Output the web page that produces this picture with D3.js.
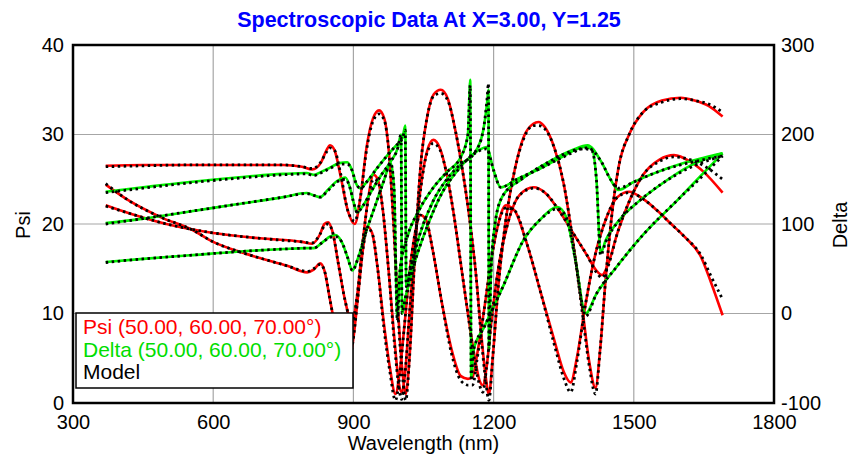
<!DOCTYPE html>
<html>
<head>
<meta charset="utf-8">
<script src="https://cdn.jsdelivr.net/npm/d3@7"></script>
<style>
  body { margin: 0; background: #fff; }
  svg { display: block; }
  text { font-family: "Liberation Sans", Arial, Helvetica, sans-serif; }
</style>
</head>
<body>
<svg id="chart"></svg>
<script>
const w = 860;
const h = 461;
const plotLeft = 73, plotRight = 774, plotTop = 45, plotBottom = 403;

const title = "Spectroscopic Data At X=3.00, Y=1.25";
const xTicks = [300, 600, 900, 1200, 1500, 1800];
const psiTicks = [0, 10, 20, 30, 40];
const deltaTicks = [-100, 0, 100, 200, 300];
const legendLabels = ["Psi (50.00, 60.00, 70.00°)", "Delta (50.00, 60.00, 70.00°)", "Model"];

// measured Psi, [wavelength nm, psi deg]
const psi1 = [[370,26.5],[450,26.6],[550,26.6],[650,26.6],[750,26.6],[790,26.4],[812,26.1],[830,26.8],[842,28.2],[850,28.8],[860,28.2],[872,25.5],[888,21.5],[903,20.0],[915,23.0],[928,28.5],[942,31.8],[955,32.7],[966,31.8],[976,28.0],[986,20.0],[996,10.0],[1005,3.5],[1012,1.0],[1020,5.0],[1030,15.0],[1043,26.0],[1058,32.0],[1072,34.5],[1087,35.0],[1102,34.0],[1118,30.5],[1135,25.5],[1150,20.0],[1162,14.5],[1174,7.5],[1183,3.0],[1190,1.0],[1198,5.0],[1210,13.0],[1225,20.0],[1245,26.0],[1265,29.8],[1285,31.2],[1296,31.4],[1310,30.8],[1330,28.5],[1350,24.5],[1370,18.0],[1390,10.5],[1405,4.5],[1418,1.7],[1428,6.0],[1440,14.0],[1453,21.0],[1468,26.5],[1490,30.0],[1520,32.5],[1560,33.8],[1600,34.1],[1630,33.8],[1660,33.2],[1690,32.0]];
const psi2 = [[370,22.1],[420,21.2],[500,20.0],[600,19.0],[700,18.4],[790,18.0],[812,17.8],[828,18.8],[838,20.0],[846,20.2],[855,19.2],[868,15.5],[882,11.5],[897,9.0],[908,12.0],[920,18.0],[932,23.0],[943,25.5],[952,25.0],[962,22.0],[975,15.0],[988,7.0],[998,2.0],[1003,1.2],[1010,3.0],[1020,10.0],[1032,18.0],[1045,24.5],[1058,28.2],[1071,29.4],[1085,28.5],[1100,25.5],[1115,21.0],[1130,15.5],[1145,10.0],[1160,5.0],[1170,2.5],[1177,2.0],[1185,4.0],[1195,9.0],[1210,15.0],[1230,20.0],[1255,23.2],[1286,24.1],[1310,23.5],[1340,21.5],[1370,19.0],[1400,16.5],[1420,14.8],[1432,14.3],[1445,15.5],[1465,19.0],[1490,22.5],[1520,25.5],[1555,27.2],[1586,27.7],[1620,27.0],[1650,25.8],[1690,23.5]];
const psi3 = [[370,24.4],[420,22.6],[486,20.8],[557,19.3],[600,18.0],[650,17.0],[700,16.2],[760,15.3],[801,14.6],[815,14.9],[829,15.6],[838,14.8],[850,11.5],[865,7.5],[878,5.0],[888,4.5],[898,6.5],[910,12.0],[920,17.0],[930,19.7],[940,19.0],[952,15.0],[965,9.0],[978,4.0],[990,1.0],[998,3.0],[1008,8.0],[1020,14.5],[1032,19.0],[1043,21.0],[1055,20.5],[1070,17.0],[1090,11.0],[1110,6.0],[1130,3.0],[1145,2.7],[1155,2.9],[1165,5.5],[1180,10.5],[1195,16.0],[1210,20.0],[1226,22.1],[1245,21.5],[1270,18.0],[1300,12.5],[1330,7.0],[1350,3.5],[1365,2.3],[1378,5.0],[1395,10.5],[1415,16.0],[1440,20.5],[1465,23.0],[1490,23.6],[1520,22.8],[1550,21.5],[1580,20.0],[1610,18.5],[1644,16.3],[1665,13.5],[1690,9.8]];

// measured Delta, [wavelength nm, delta deg]
const delta1 = [[370,136],[450,141],[550,147],[650,152],[750,156],[800,157],[815,155],[830,158],[850,163],[870,168],[887,169],[897,160],[906,145],[915,140],[930,148],[950,162],[970,175],[990,187],[1005,196],[1011,210],[1013,30],[1020,45],[1040,85],[1070,125],[1100,150],[1130,167],[1160,180],[1178,205],[1186,235],[1189,250],[1190,-40],[1194,40],[1203,100],[1218,130],[1260,150],[1320,170],[1370,183],[1401,188],[1430,170],[1450,150],[1467,138],[1500,147],[1550,158],[1600,167],[1650,174],[1690,179]];
const delta2 = [[370,101],[450,106],[550,114],[650,122],[750,130],[800,134.6],[815,132],[829,130],[845,138],[865,148],[883,152],[893,140],[900,125],[908,113],[920,120],[940,138],[960,155],[980,170],[995,185],[1002,200],[1004,0],[1010,15],[1030,55],[1060,100],[1090,135],[1120,158],[1150,175],[1170,183],[1185,186],[1200,160],[1215,141],[1250,150],[1300,162],[1350,176],[1395,186],[1410,184],[1420,150],[1429,68],[1440,82],[1470,105],[1510,125],[1560,145],[1620,165],[1690,179]];
const delta3 = [[370,57.5],[450,61],[550,65],[650,69],[750,72],[800,73],[815,73],[835,80],[850,86],[862,87.7],[875,80],[888,62],[898,48],[910,62],[925,88],[945,118],[965,148],[980,168],[987,140],[994,-4],[1000,50],[1015,85],[1040,115],[1070,140],[1100,158],[1130,175],[1145,200],[1150,261],[1152,-71],[1157,-41],[1180,-15],[1220,30],[1264,82],[1300,105],[1337,119],[1355,108],[1375,60],[1397,0],[1420,22],[1460,50],[1520,88],[1594,127],[1640,152],[1690,179]];

// model curves
const modelPsi1 = [[370,26.4],[450,26.5],[550,26.6],[650,26.6],[750,26.6],[790,26.4],[812,26.2],[830,26.9],[842,28.0],[850,28.5],[860,28.2],[872,25.8],[888,21.5],[903,20.3],[915,23.0],[928,28.2],[942,31.5],[955,32.3],[966,31.6],[976,28.0],[986,20.0],[996,9.5],[1005,3.0],[1012,0.3],[1020,5.0],[1030,15.0],[1043,26.0],[1058,32.0],[1072,34.3],[1087,34.6],[1102,33.8],[1118,30.5],[1135,25.5],[1150,20.0],[1162,14.5],[1174,7.0],[1183,2.5],[1190,0.3],[1198,5.0],[1210,13.0],[1225,20.0],[1245,26.0],[1265,29.6],[1285,31.0],[1296,31.0],[1310,30.6],[1330,28.5],[1350,24.5],[1370,18.0],[1390,10.0],[1405,4.0],[1418,1.0],[1428,6.0],[1440,14.0],[1453,21.0],[1468,26.5],[1490,30.0],[1520,32.5],[1560,33.6],[1600,34.0],[1630,33.8],[1660,33.4],[1690,32.5]];
const modelPsi2 = [[370,22.0],[420,21.2],[500,20.0],[600,19.0],[700,18.4],[790,18.0],[812,17.9],[828,18.8],[838,19.8],[846,20.0],[855,19.2],[868,15.5],[882,11.5],[897,9.0],[908,12.0],[920,18.0],[932,22.8],[943,25.0],[952,24.8],[962,22.0],[975,15.0],[988,6.5],[998,1.5],[1003,0.4],[1010,3.0],[1020,10.0],[1032,18.0],[1045,24.3],[1058,28.0],[1071,29.0],[1085,28.3],[1100,25.5],[1115,21.0],[1130,15.5],[1145,10.0],[1160,4.5],[1170,2.0],[1177,1.2],[1185,4.0],[1195,9.0],[1210,15.0],[1230,20.0],[1255,23.2],[1286,24.0],[1310,23.5],[1340,21.5],[1370,19.0],[1400,16.5],[1420,14.6],[1432,14.0],[1445,15.3],[1465,19.0],[1490,22.5],[1520,25.5],[1555,27.0],[1586,27.5],[1620,27.2],[1650,26.5],[1690,25.0]];
const modelPsi3 = [[370,24.5],[420,22.6],[486,20.8],[557,19.3],[600,18.0],[650,17.0],[700,16.2],[760,15.3],[801,14.7],[815,15.0],[829,15.5],[838,14.8],[850,11.5],[865,7.5],[878,5.0],[888,4.5],[898,6.5],[910,12.0],[920,17.0],[930,19.5],[940,19.0],[952,15.0],[965,8.5],[978,3.5],[990,0.3],[998,2.5],[1008,8.0],[1020,14.5],[1032,19.0],[1043,21.0],[1055,20.5],[1070,17.0],[1090,11.0],[1110,5.5],[1130,2.5],[1145,2.0],[1155,2.0],[1165,5.0],[1180,10.5],[1195,16.0],[1210,20.0],[1226,21.8],[1245,21.5],[1270,18.0],[1300,12.5],[1330,6.5],[1350,2.8],[1365,1.2],[1378,4.5],[1395,10.5],[1415,16.0],[1440,20.5],[1465,23.0],[1490,23.5],[1520,22.8],[1550,21.5],[1580,20.0],[1610,18.5],[1644,16.5],[1665,14.2],[1690,11.6]];
const modelDelta1 = [[370,135],[450,140],[550,146],[650,151],[750,155],[800,156],[815,154],[830,157],[850,162],[870,167],[887,167],[897,160],[906,145],[915,140],[930,148],[950,162],[970,175],[990,187],[1005,196],[1011,205],[1013,30],[1020,45],[1040,85],[1070,125],[1100,150],[1130,167],[1160,180],[1178,205],[1186,240],[1189,257],[1190,-40],[1194,40],[1203,100],[1218,130],[1260,150],[1320,170],[1370,182],[1401,185],[1430,170],[1450,150],[1467,140],[1500,147],[1550,158],[1600,166],[1650,172],[1690,176]];
const modelDelta2 = [[370,100],[450,106],[550,114],[650,122],[750,130],[800,134],[815,132],[829,130],[845,137],[865,147],[883,150],[893,140],[900,125],[908,113],[920,120],[940,138],[960,155],[980,170],[995,185],[1002,200],[1004,0],[1010,15],[1030,55],[1060,100],[1090,135],[1120,158],[1150,175],[1170,182],[1185,184],[1200,160],[1215,141],[1250,150],[1300,162],[1350,175],[1395,184],[1410,182],[1420,150],[1429,65],[1440,80],[1470,105],[1510,125],[1560,145],[1620,163],[1690,176]];
const modelDelta3 = [[370,57],[450,61],[550,65],[650,69],[750,72],[800,73],[815,73],[835,80],[850,85],[862,86],[875,80],[888,62],[898,48],[910,62],[925,88],[945,118],[965,148],[980,168],[987,140],[994,-8],[1000,50],[1015,85],[1040,115],[1070,140],[1100,158],[1130,175],[1145,200],[1150,255],[1152,-75],[1157,-41],[1180,-15],[1220,30],[1264,82],[1300,105],[1337,117],[1355,108],[1375,60],[1397,-3],[1420,22],[1460,50],[1520,88],[1594,127],[1640,150],[1690,176]];

const svg = d3.select("#chart")
    .attr("width", w)
    .attr("height", h);

const x = d3.scaleLinear().domain([300, 1800]).range([plotLeft, plotRight]);
const yPsi = d3.scaleLinear().domain([0, 40]).range([plotBottom, plotTop]);
const yDelta = d3.scaleLinear().domain([-100, 300]).range([plotBottom, plotTop]);

svg.append("defs").append("clipPath").attr("id", "plot")
    .append("rect")
    .attr("x", plotLeft).attr("y", plotTop)
    .attr("width", plotRight - plotLeft).attr("height", plotBottom - plotTop);

// grid
svg.append("g").selectAll("line")
    .data(xTicks.slice(1, -1))
    .join("line")
    .attr("x1", d => x(d)).attr("x2", d => x(d))
    .attr("y1", plotTop).attr("y2", plotBottom)
    .attr("stroke", "#a6a6a6").attr("stroke-width", 1.2);

svg.append("g").selectAll("line")
    .data(psiTicks.slice(1, -1))
    .join("line")
    .attr("x1", plotLeft).attr("x2", plotRight)
    .attr("y1", d => yPsi(d)).attr("y2", d => yPsi(d))
    .attr("stroke", "#a6a6a6").attr("stroke-width", 1.2);

// axes
const styleAxis = g => {
    g.select(".domain").remove();
    g.attr("font-size", 20).attr("font-family", "\"Liberation Sans\", Arial, sans-serif");
    g.selectAll("text").attr("fill", "#000");
};

svg.append("g")
    .attr("transform", `translate(0,${plotBottom})`)
    .call(d3.axisBottom(x).tickValues(xTicks).tickSize(0).tickPadding(12).tickFormat(d => String(d)))
    .call(styleAxis);

svg.append("g")
    .attr("transform", `translate(${plotLeft},0)`)
    .call(d3.axisLeft(yPsi).tickValues(psiTicks).tickSize(0).tickPadding(9).tickFormat(d => String(d)))
    .call(styleAxis);

svg.append("g")
    .attr("transform", `translate(${plotRight},0)`)
    .call(d3.axisRight(yDelta).tickValues(deltaTicks).tickSize(0).tickPadding(7).tickFormat(d => String(d)))
    .call(styleAxis);

// curves
const psiLine = d3.line().x(d => x(d[0])).y(d => yPsi(d[1])).curve(d3.curveMonotoneX);
const deltaLine = d3.line().x(d => x(d[0])).y(d => yDelta(d[1])).curve(d3.curveMonotoneX);

const plot = svg.append("g").attr("clip-path", "url(#plot)");

[psi1, psi2, psi3].forEach(s => {
    plot.append("path").attr("d", psiLine(s))
        .attr("fill", "none").attr("stroke", "#ff0000").attr("stroke-width", 2.6);
});

[delta1, delta2, delta3].forEach(s => {
    plot.append("path").attr("d", deltaLine(s))
        .attr("fill", "none").attr("stroke", "#00f000").attr("stroke-width", 2.6);
});

[modelPsi1, modelPsi2, modelPsi3].forEach(s => {
    plot.append("path").attr("d", psiLine(s))
        .attr("fill", "none").attr("stroke", "#000").attr("stroke-width", 2.8)
        .attr("stroke-dasharray", "2.5,3.5");
});

[modelDelta1, modelDelta2, modelDelta3].forEach(s => {
    plot.append("path").attr("d", deltaLine(s))
        .attr("fill", "none").attr("stroke", "#000").attr("stroke-width", 2.8)
        .attr("stroke-dasharray", "2.5,3.5");
});

// frame
svg.append("rect")
    .attr("x", plotLeft).attr("y", plotTop)
    .attr("width", plotRight - plotLeft).attr("height", plotBottom - plotTop)
    .attr("fill", "none").attr("stroke", "#000").attr("stroke-width", 2.5);

// legend
const legend = svg.append("g");
legend.append("rect")
    .attr("x", 76).attr("y", 313).attr("width", 277).attr("height", 75)
    .attr("fill", "#fff").attr("stroke", "#000").attr("stroke-width", 1.5);
legend.selectAll("text")
    .data(legendLabels)
    .join("text")
    .attr("x", 83)
    .attr("y", (d, i) => 334 + i * 22.5)
    .attr("font-size", 21)
    .attr("fill", (d, i) => ["#ff0000", "#00dd00", "#000"][i])
    .text(d => d);

// titles
svg.append("text")
    .attr("x", 429).attr("y", 27)
    .attr("text-anchor", "middle")
    .attr("font-size", 21.5).attr("font-weight", "bold")
    .attr("fill", "#0000ff")
    .text(title);

svg.append("text")
    .attr("x", (plotLeft + plotRight) / 2).attr("y", 450)
    .attr("text-anchor", "middle")
    .attr("font-size", 20)
    .text("Wavelength (nm)");

svg.append("text")
    .attr("transform", "translate(30,225) rotate(-90)")
    .attr("text-anchor", "middle")
    .attr("font-size", 20)
    .text("Psi");

svg.append("text")
    .attr("transform", "translate(847,225) rotate(-90)")
    .attr("text-anchor", "middle")
    .attr("font-size", 20)
    .text("Delta");
</script>
</body>
</html>
